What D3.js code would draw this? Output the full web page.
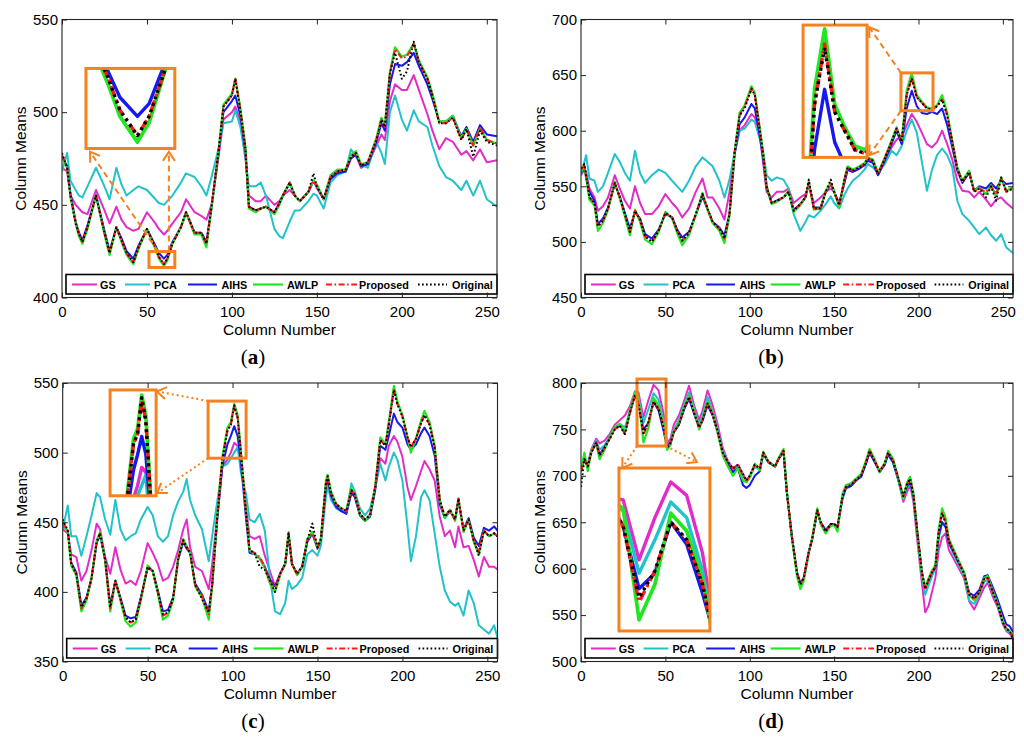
<!DOCTYPE html>
<html>
<head>
<meta charset="utf-8">
<script src="https://cdn.jsdelivr.net/npm/d3@7"></script>
<style>
  body { margin: 0; background: #fff; }
  svg text { font-family: "Liberation Sans", Arial, sans-serif; }
</style>
</head>
<body>
<svg id="chart" width="1024" height="739"></svg>
<script>
// ---- data (column number -> column mean) ----
var seriesNames = ["GS", "PCA", "AIHS", "AWLP", "Proposed", "Original"];
var xTicks = [0, 50, 100, 150, 200, 250];

// (a)
var colsA = [0,3,5,8,10,12,15,20,25,28, 32,35,38,42,45,50,55,57,60,62,
  65,70,73,78,82,85,88,92,95,100, 102,105,108,110,114,117,120,125,128,130,
  134,137,140,145,148,150,154,158,162,167, 170,173,176,180,185,188,190,193,196,200,
  203,207,210,215,218,222,226,230,235,238, 242,246,250,256];
var gsA = [470,468,455,450,448,446,445,458,447,440, 449,442,438,436,437,446,440,437,434,436,
  440,446,453,446,444,442,450,475,496,500, 503,495,475,455,452,452,455,450,452,455,
  458,455,452,457,463,459,453,464,467,468, 475,477,470,472,482,488,485,506,515,512,
  512,520,512,499,490,480,486,484,477,479, 474,480,473,474];
var pcaA = [468,478,463,458,455,454,460,470,460,453, 470,461,455,458,460,458,453,451,450,452,
  455,462,467,465,460,455,465,480,494,495, 501,492,475,460,460,462,455,437,433,432,
  441,447,447,452,456,455,448,462,466,468, 480,476,472,470,484,478,472,500,509,496,
  490,501,495,492,482,471,465,463,458,463, 455,463,453,449];
var aihsA = [476,471,456,441,435,431,439,455,436,425, 438,432,425,421,428,437,428,424,421,423,
  430,438,446,435,435,430,449,477,500,506, 509,498,478,449,447,448,449,446,451,455,
  462,455,452,457,463,460,453,464,467,468, 475,477,471,472,484,494,490,515,526,525,
  527,532,525,515,507,495,495,498,487,492, 484,493,488,487];
var awlpA = [476,470,454,440,433,429,437,455,434,423, 438,430,423,418,426,437,426,421,417,420,
  429,438,446,434,434,427,448,478,504,510, 518,502,481,448,446,448,449,445,450,455,
  462,455,452,457,463,461,453,466,469,469, 477,479,472,473,486,497,493,522,535,530,
  531,537,528,519,510,495,495,498,486,491, 482,491,485,483];
var propA = [477,470,455,441,434,430,438,455,435,424, 438,431,424,419,427,437,427,422,418,421,
  429,438,446,435,435,429,449,478,503,509, 518,501,480,449,447,448,449,446,451,455,
  462,455,452,457,463,460,453,465,468,469, 476,478,471,473,485,496,492,521,534,529,
  530,537,527,518,509,494,494,497,485,491, 482,492,485,483];
var origA = [478,470,455,440,434,430,438,455,435,424, 438,431,424,419,427,437,427,422,418,421,
  429,438,446,435,435,429,449,478,503,509, 518,501,480,449,447,448,449,446,451,455,
  462,455,452,457,467,460,453,465,468,469, 476,478,471,473,485,496,492,521,532,518,
  522,538,527,518,509,494,494,497,485,491, 476,490,484,482];
var yTicksA = [400, 450, 500, 550];

// (b)
var colsB = [0,2,3,5,8,10,13,16,20,23, 26,29,32,35,38,42,46,50,54,57,
  60,64,68,72,75,78,82,85,88,91, 94,97,101,103,106,108,110,113,116,120,
  123,126,130,133,135,138,142,145,148,150, 153,156,158,161,165,168,170,173,176,180,
  184,187,190,193,196,199,202,205,208,211, 214,217,220,223,226,230,233,236,240,243,
  246,249,252,256];
var gsB = [560,565,563,548,540,528,532,540,560,548, 537,530,550,535,525,525,532,543,535,530,
  522,530,545,557,540,540,530,520,545,580, 600,605,615,612,595,570,545,540,545,545,
  548,535,540,543,550,535,540,545,548,545, 535,552,565,563,566,569,574,572,560,572,
  585,592,595,605,615,608,598,588,585,590, 600,588,574,555,546,545,540,545,538,532,
  538,540,535,530];
var pcaB = [560,572,578,557,555,545,550,562,579,572, 562,555,582,562,553,560,565,562,555,550,
  545,555,568,576,572,568,555,540,556,580, 600,602,610,608,592,580,560,555,558,556,
  548,525,510,518,524,522,528,534,541,535, 530,542,548,555,560,565,570,567,562,570,
  582,578,586,600,610,598,572,546,565,578, 584,578,567,537,525,519,513,507,513,506,
  501,507,495,490];
var aihsB = [562,567,558,545,537,516,521,531,552,541, 526,512,527,521,507,503,511,525,522,511,
  504,509,524,541,529,518,513,506,525,578, 606,612,624,620,595,575,548,535,537,540,
  545,529,534,540,553,531,531,545,552,545, 534,553,565,563,566,569,573,571,560,573,
  588,600,588,620,636,622,616,615,617,615, 620,605,585,564,553,562,546,550,548,553,
  548,556,552,553];
var awlpB = [563,568,558,538,533,510,517,529,554,539, 523,506,529,518,502,498,509,527,521,508,
  497,506,524,544,529,517,510,499,524,581, 616,623,640,634,602,579,550,534,536,540,
  546,527,533,540,554,529,530,546,553,546, 531,556,568,565,568,571,576,574,562,576,
  591,603,591,636,652,632,626,621,620,623, 632,616,591,567,555,564,546,549,543,551,
  541,558,546,549];
var propB = [565,569,560,540,535,514,519,530,553,540, 525,509,528,520,505,500,510,526,522,510,
  501,508,525,543,530,518,512,503,525,580, 614,622,637,632,601,578,550,535,537,540,
  545,528,534,540,553,530,530,545,552,545, 533,555,567,564,567,570,575,573,561,575,
  590,602,590,632,648,630,625,620,619,622, 628,614,590,566,554,563,545,548,545,550,
  543,557,545,548];
var origB = [566,570,560,540,535,514,519,530,553,540, 525,509,528,520,505,500,510,526,522,510,
  501,508,525,543,530,518,512,503,525,580, 614,620,638,632,600,578,550,535,537,540,
  545,528,534,540,556,530,530,545,556,545, 533,555,567,564,567,570,575,573,561,575,
  590,602,590,632,647,630,625,620,619,622, 628,614,590,566,554,563,545,548,540,550,
  537,558,545,548];
var yTicksB = [450, 500, 550, 600, 650, 700];

// (c)
var colsC = [0,3,5,8,11,14,17,20,22,25, 28,31,34,37,40,43,46,50,53,56,
  59,62,65,68,71,73,75,78,82,86, 88,91,94,97,99,101,103,105,108,110,
  113,116,119,122,125,128,131,133,135,138, 141,144,147,150,152,155,156,158,161,164,
  167,170,172,175,178,181,184,187,190,192, 195,197,200,203,205,208,211,213,216,219,
  222,225,228,231,233,236,239,242,245,248, 251,254,256];
var gsC = [445,442,427,425,408,415,430,449,445,425, 413,432,416,406,408,405,415,435,428,420,
  408,410,418,430,445,452,432,418,415,402, 420,455,490,495,500,507,505,494,460,440,
  438,440,426,415,404,413,420,440,420,413, 418,436,443,432,437,476,480,470,462,459,
  457,472,469,455,451,456,475,496,492,505, 512,508,497,475,466,476,487,494,488,480,
  454,440,444,432,447,432,433,423,411,425, 418,418,416];
var pcaC = [445,462,440,440,426,440,455,471,468,452, 441,466,445,437,440,442,452,461,455,440,
  436,440,455,465,472,481,466,455,445,422, 440,465,490,492,496,500,504,485,470,452,
  450,456,444,410,386,384,392,408,402,405, 410,427,430,426,433,468,476,466,460,458,
  457,478,472,460,455,460,475,492,480,490, 500,495,480,447,422,440,468,473,466,442,
  418,401,393,390,392,383,401,392,376,373, 370,376,367];
var aihsC = [448,444,421,414,390,396,410,435,441,423, 390,408,396,383,381,382,396,417,415,401,
  386,387,396,423,436,431,428,406,398,386, 405,452,490,506,512,519,512,492,452,428,
  427,424,418,409,404,413,420,441,420,413, 418,436,442,431,437,476,481,469,461,458,
  456,471,468,455,451,454,473,505,502,512, 528,522,518,506,502,506,514,518,512,498,
  463,453,458,452,465,445,453,439,433,446, 444,447,444];
var awlpC = [449,443,419,412,386,394,410,437,443,422, 386,408,394,379,375,378,394,419,415,399,
  380,383,394,425,438,433,428,404,396,380, 404,455,497,518,522,535,527,500,457,430,
  427,424,417,406,400,412,420,443,420,412, 418,438,443,432,438,480,484,472,463,460,
  458,474,471,456,451,455,476,511,506,522, 548,537,527,511,500,510,523,530,522,505,
  466,453,459,451,467,443,452,436,427,444, 440,442,440];
var propC = [450,444,421,413,388,395,410,436,442,423, 388,408,395,381,378,380,395,418,415,400,
  383,385,395,424,437,432,428,405,398,384, 405,454,495,516,520,533,525,499,456,430,
  428,425,418,408,403,413,420,442,420,413, 418,437,442,432,438,478,483,471,463,460,
  458,473,470,456,452,455,475,509,505,520, 545,535,526,511,504,510,521,527,520,504,
  466,454,459,452,467,444,452,437,429,444, 440,442,440];
var origC = [452,444,420,413,389,395,410,436,442,423, 389,408,395,382,378,380,395,418,415,400,
  384,385,395,424,437,432,428,405,395,385, 405,454,495,516,520,534,525,499,456,430,
  428,418,416,408,400,413,420,442,420,413, 418,437,449,432,438,478,483,471,463,460,
  458,473,470,456,452,455,475,509,505,520, 545,535,526,511,504,510,521,527,520,504,
  466,454,459,452,467,444,452,437,426,444, 440,442,440];
var yTicksC = [350, 400, 450, 500, 550];

// (d)
var colsD = [0,2,4,6,9,11,14,17,20,23, 26,29,32,34,37,40,43,46,49,51,
  53,55,58,61,64,67,70,72,75,78, 81,84,87,90,93,96,98,100,103,106,
  108,111,115,117,120,122,125,128,130,132, 135,137,140,142,145,148,150,152,155,157,
  160,163,166,169,171,174,177,180,182,185, 188,191,193,195,197,199,202,204,206,208,
  210,212,214,216,218,221,224,227,230,233, 236,239,241,244,247,250,252,254,256];
var gsD = [705,718,712,728,740,735,738,745,755,760, 765,775,791,790,763,782,798,792,766,735,
  740,755,765,780,797,776,760,770,792,776, 755,730,716,708,712,702,695,700,712,708,
  725,715,710,718,727,682,634,595,583,590, 618,632,663,650,640,648,648,645,678,688,
  690,696,700,715,727,716,705,713,725,716, 696,672,682,690,672,635,585,553,560,575,
  590,620,634,638,620,610,600,590,565,556, 568,580,585,570,558,540,533,530,525];
var pcaD = [705,720,712,726,738,728,733,742,752,756, 752,770,789,785,757,772,789,782,758,732,
  737,750,760,776,790,772,755,765,785,770, 750,727,715,706,710,700,694,698,710,706,
  724,714,710,718,727,682,634,596,584,590, 618,632,661,650,642,648,648,645,675,686,
  689,695,699,714,725,715,704,712,723,714, 695,675,686,692,676,640,592,572,582,592,
  600,632,650,646,628,614,603,592,566,562, 572,586,588,574,560,541,534,531,526];
var aihsD = [705,719,711,725,736,723,731,741,751,755, 746,769,787,778,750,757,780,770,748,731,
  736,747,755,771,783,767,752,759,776,765, 747,724,713,704,708,690,687,690,700,705,
  724,715,710,718,726,682,634,596,584,590, 618,632,662,650,641,648,648,645,677,687,
  689,695,699,714,725,715,704,712,723,714, 696,677,688,694,678,644,596,579,588,596,
  601,636,650,645,628,617,606,596,574,571, 577,592,593,580,566,550,540,538,532];
var awlpD = [705,725,705,726,735,718,728,742,752,756, 747,770,790,786,736,752,784,776,754,728,
  733,748,757,774,787,770,750,762,780,768, 746,722,710,700,708,695,693,698,713,706,
  726,716,710,719,729,683,633,592,578,587, 617,633,665,648,638,646,647,640,681,690,
  692,697,702,717,729,718,704,714,727,718, 697,676,692,699,682,644,594,580,590,598,
  604,643,665,655,632,620,608,596,572,566, 573,590,592,576,562,543,536,533,526];
var propD = [705,718,710,724,736,722,730,740,750,754, 745,768,787,778,744,758,780,772,752,730,
  735,747,755,772,785,768,752,760,778,766, 748,725,715,708,712,700,695,700,712,708,
  725,715,710,718,727,682,634,595,583,590, 618,632,663,650,640,648,648,645,678,688,
  690,696,700,715,727,716,705,713,725,716, 698,678,690,697,680,645,596,578,588,596,
  602,640,660,650,630,618,606,595,572,568, 574,589,590,575,561,542,535,533,525];
var origD = [688,718,710,724,736,722,730,740,750,754, 745,768,787,778,746,758,780,772,752,730,
  735,747,755,772,785,768,752,760,778,766, 748,725,715,708,712,702,695,700,712,708,
  725,715,710,718,727,682,634,595,583,590, 618,632,663,650,640,648,648,645,678,688,
  690,696,700,715,727,716,705,713,725,716, 698,678,690,697,680,645,596,578,588,596,
  602,640,660,650,630,618,606,595,572,568, 574,589,590,575,561,542,535,533,525];
var yTicksD = [500, 550, 600, 650, 700, 750, 800];

// ---- styles ----
var lineStyle = [
  { color: "#e12cc8", width: 2,   dash: null },
  { color: "#22c2c9", width: 2,   dash: null },
  { color: "#1717ee", width: 2,   dash: null },
  { color: "#22e622", width: 2.2, dash: null },
  { color: "#ff1818", width: 2,   dash: [6, 2.5, 1.6, 2.5] },
  { color: "#000000", width: 2,   dash: [1.7, 2.3] }
];
var orange = "#f5821f";

// legend item offsets inside a 431px wide legend box (line start, line end, text x)
var legendItems = [[6, 31, 34], [59, 84, 88], [122, 151, 155.5], [187, 217, 221], [260, 291, 293], [352, 381, 386]];

var panels = [
  { key: "a", cols: colsA, data: [gsA, pcaA, aihsA, awlpA, propA, origA], yTicks: yTicksA,
    left: 62, right: 497, top: 19.5, bottom: 297.5, labelX: 253,
    zoomBox: [51.2, 66.4, 416.2, 424.8], insetView: [51.2, 66.4, 416, 428.5], insetBox: [14.1, 66.4, 480.4, 523.6],
    arrows: [[56.5, 424.8, 16.5, 478.6], [62.9, 424.8, 62.9, 478.6]], arrowDash: "6,4" },
  { key: "b", cols: colsB, data: [gsB, pcaB, aihsB, awlpB, propB, origB], yTicks: yTicksB,
    left: 581, right: 1013, top: 19.5, bottom: 297.5, labelX: 771,
    zoomBox: [189.6, 208.6, 618, 652], insetView: [189.6, 208.6, 618, 653], insetBox: [131.6, 169.5, 576, 695],
    arrows: [[189.6, 652, 170.8, 693], [189.6, 618, 170.8, 578]], arrowDash: "6,4" },
  { key: "c", cols: colsC, data: [gsC, pcaC, aihsC, awlpC, propC, origC], yTicks: yTicksC,
    left: 62.7, right: 497.5, top: 383, bottom: 661.5, labelX: 253,
    zoomBox: [85.6, 108, 496, 537], insetView: [85.6, 108, 496, 537], insetBox: [27.9, 55, 469, 545],
    arrows: [[85.6, 537, 55.6, 544], [85.6, 496, 55.6, 471]], arrowDash: "2,3" },
  { key: "d", cols: colsD, data: [gsD, pcaD, aihsD, awlpD, propD, origD], yTicks: yTicksD,
    left: 581, right: 1013, top: 383, bottom: 661.5, labelX: 771,
    zoomBox: [33.2, 50.4, 732.1, 804.3], insetView: [33.2, 50.4, 731, 804.3], insetBox: [22.5, 76.4, 532.9, 708.4],
    arrows: [[33.2, 732.1, 24.5, 708.6], [50.4, 732.1, 68.7, 714.9]], arrowDash: "2,3" }
];

var svg = d3.select("#chart");
var defs = svg.append("defs");

defs.append("marker")
  .attr("id", "chev")
  .attr("markerUnits", "userSpaceOnUse")
  .attr("markerWidth", 14).attr("markerHeight", 14)
  .attr("refX", 11).attr("refY", 7)
  .attr("orient", "auto")
  .append("path")
  .attr("d", "M2,1 L11,7 L2,13")
  .attr("fill", "none")
  .attr("stroke", orange)
  .attr("stroke-width", 2);

function drawSeries(g, p, x, y, widthScale) {
  var line = d3.line()
    .x(function(d) { return x(d[0]); })
    .y(function(d) { return y(d[1]); });
  p.data.forEach(function(vals, i) {
    var st = lineStyle[i];
    var pts = p.cols.map(function(c, j) { return [c, vals[j]]; });
    g.append("path")
      .datum(pts)
      .attr("d", line)
      .attr("fill", "none")
      .attr("stroke", st.color)
      .attr("stroke-width", st.width * widthScale)
      .attr("stroke-linejoin", "round")
      .attr("stroke-dasharray", st.dash ? st.dash.map(function(v) { return v * widthScale; }).join(",") : null);
  });
}

panels.forEach(function(p) {
  var g = svg.append("g").attr("class", "panel-" + p.key);
  var x = d3.scaleLinear().domain([0, 256]).range([p.left, p.right]);
  var y = d3.scaleLinear().domain([p.yTicks[0], p.yTicks[p.yTicks.length - 1]]).range([p.bottom, p.top]);

  defs.append("clipPath").attr("id", "clip-" + p.key)
    .append("rect")
    .attr("x", p.left).attr("y", p.top)
    .attr("width", p.right - p.left).attr("height", p.bottom - p.top);

  drawSeries(g.append("g").attr("clip-path", "url(#clip-" + p.key + ")"), p, x, y, 1);

  // zoomed inset: same data on a magnified scale
  var ib = p.insetBox, zb = p.zoomBox, iv = p.insetView;
  var ix0 = x(ib[0]), ix1 = x(ib[1]), iy0 = y(ib[3]), iy1 = y(ib[2]);
  g.append("rect")
    .attr("x", ix0).attr("y", iy0).attr("width", ix1 - ix0).attr("height", iy1 - iy0)
    .attr("fill", "#fff");
  defs.append("clipPath").attr("id", "clipi-" + p.key)
    .append("rect")
    .attr("x", ix0).attr("y", iy0).attr("width", ix1 - ix0).attr("height", iy1 - iy0);
  var xi = d3.scaleLinear().domain([iv[0], iv[1]]).range([ix0, ix1]);
  var yi = d3.scaleLinear().domain([iv[2], iv[3]]).range([iy1, iy0]);
  drawSeries(g.append("g").attr("clip-path", "url(#clipi-" + p.key + ")"), p, xi, yi, 1.7);
  g.append("rect")
    .attr("x", ix0).attr("y", iy0).attr("width", ix1 - ix0).attr("height", iy1 - iy0)
    .attr("fill", "none").attr("stroke", orange).attr("stroke-width", 3);

  g.append("rect")
    .attr("x", x(zb[0])).attr("y", y(zb[3]))
    .attr("width", x(zb[1]) - x(zb[0])).attr("height", y(zb[2]) - y(zb[3]))
    .attr("fill", "none").attr("stroke", orange).attr("stroke-width", 3);

  p.arrows.forEach(function(a) {
    g.append("line")
      .attr("x1", x(a[0])).attr("y1", y(a[1]))
      .attr("x2", x(a[2])).attr("y2", y(a[3]))
      .attr("stroke", orange).attr("stroke-width", 2)
      .attr("stroke-dasharray", p.arrowDash)
      .attr("marker-end", "url(#chev)");
  });

  // legend
  var lx = p.left + 4, ly = p.bottom - 23;
  var lw = p.right - lx, k = lw / 431;
  var lg = g.append("g").attr("transform", "translate(" + lx + "," + ly + ")");
  lg.append("rect")
    .attr("width", lw).attr("height", 19.5)
    .attr("fill", "#fff").attr("stroke", "#000").attr("stroke-width", 1.6);
  seriesNames.forEach(function(name, i) {
    var it = legendItems[i], st = lineStyle[i];
    lg.append("line")
      .attr("x1", it[0] * k).attr("x2", it[1] * k).attr("y1", 10).attr("y2", 10)
      .attr("stroke", st.color).attr("stroke-width", st.width)
      .attr("stroke-dasharray", st.dash ? st.dash.join(",") : null);
    lg.append("text")
      .attr("x", it[2] * k).attr("y", 14)
      .attr("font-size", 10.8).attr("font-weight", "bold")
      .text(name);
  });

  // axes, MATLAB style: inward ticks on all four sides
  var fontFam = "Liberation Sans, Arial, sans-serif";
  var xb = g.append("g").attr("transform", "translate(0," + p.bottom + ")")
    .call(d3.axisBottom(x).tickValues(xTicks).tickSizeInner(-5).tickSizeOuter(0).tickPadding(9));
  var xt = g.append("g").attr("transform", "translate(0," + p.top + ")")
    .call(d3.axisTop(x).tickValues(xTicks).tickSizeInner(-5).tickSizeOuter(0).tickFormat(""));
  var yl = g.append("g").attr("transform", "translate(" + p.left + ",0)")
    .call(d3.axisLeft(y).tickValues(p.yTicks).tickSizeInner(-5).tickSizeOuter(0).tickPadding(4));
  var yr = g.append("g").attr("transform", "translate(" + p.right + ",0)")
    .call(d3.axisRight(y).tickValues(p.yTicks).tickSizeInner(-5).tickSizeOuter(0).tickFormat(""));
  [xb, xt, yl, yr].forEach(function(ax) {
    ax.attr("font-family", fontFam).attr("font-size", 15);
    ax.select(".domain").remove();
    ax.selectAll(".tick line").attr("stroke", "#222");
    ax.selectAll(".tick text").attr("fill", "#000");
  });

  g.append("rect")
    .attr("x", p.left).attr("y", p.top)
    .attr("width", p.right - p.left).attr("height", p.bottom - p.top)
    .attr("fill", "none").attr("stroke", "#222").attr("stroke-width", 1.1);

  g.append("text")
    .attr("x", (p.left + p.right) / 2).attr("y", p.bottom + 37.5)
    .attr("text-anchor", "middle").attr("font-size", 15.5)
    .text("Column Number");
  g.append("text")
    .attr("transform", "translate(" + (p.left - 36) + "," + ((p.top + p.bottom) / 2) + ") rotate(-90)")
    .attr("text-anchor", "middle").attr("font-size", 15.5)
    .text("Column Means");

  var lab = g.append("text")
    .attr("x", p.labelX).attr("y", p.bottom + 66.5)
    .attr("text-anchor", "middle").attr("font-size", 21)
    .style("font-family", "Liberation Serif, Times New Roman, serif");
  lab.append("tspan").text("(");
  lab.append("tspan").attr("font-weight", "bold").text(p.key);
  lab.append("tspan").text(")");
});
</script>
</body>
</html>
